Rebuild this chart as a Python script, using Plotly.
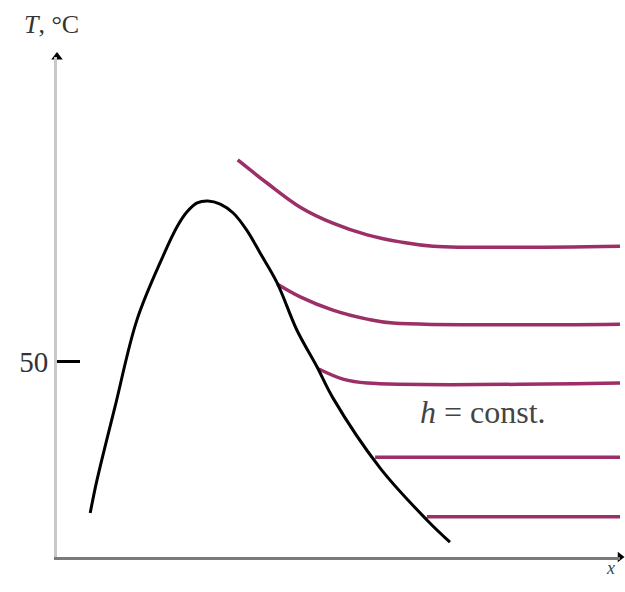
import plotly.graph_objects as go

# saturation curve (x in arbitrary units, T in °C)
curve_x = [0.59, 0.71, 1.03, 1.42, 1.87, 2.13, 2.31, 2.49, 2.68, 2.90, 3.13, 3.37,
           3.61, 3.91, 4.26, 4.62, 4.90, 5.74, 6.57, 6.98]
curve_t = [11.3, 19.7, 38.5, 60.8, 76.7, 84.6, 88.5, 90.8, 91.3, 90.5, 88.2, 83.8,
           77.9, 70.3, 58.2, 48.7, 40.8, 22.8, 9.5, 3.8]

# lines of constant enthalpy
h_x = [
    [3.21, 3.73, 4.32, 4.90, 5.51, 6.09, 6.68, 10.0],
    [3.91, 4.32, 4.90, 5.51, 5.97, 10.0],
    [4.65, 5.08, 5.51, 10.0],
    [5.65, 10.0],
    [6.57, 10.0],
]
h_t = [
    [101.8, 95.9, 89.7, 85.6, 82.6, 80.8, 79.7, 79.7],
    [70.0, 66.7, 63.3, 61.0, 60.0, 59.7],
    [48.2, 45.6, 44.6, 44.6],
    [25.6, 25.6],
    [10.3, 10.3],
]

x_max = 10.0
t_max = 128.2
y_ticks = [50]

fig = go.Figure()

for xs, ts in zip(h_x, h_t):
    fig.add_trace(go.Scatter(x=xs, y=ts, mode="lines", line_shape="spline",
                             line=dict(color="#9c2f68", width=3.5),
                             hoverinfo="skip", cliponaxis=False))

fig.add_trace(go.Scatter(x=curve_x, y=curve_t, mode="lines", line_shape="spline",
                         line=dict(color="black", width=3), hoverinfo="skip"))

# axis arrows
fig.add_trace(go.Scatter(x=[0], y=[t_max], mode="markers", cliponaxis=False,
                         marker=dict(symbol="triangle-up", size=10, color="black"),
                         hoverinfo="skip"))
fig.add_trace(go.Scatter(x=[x_max], y=[0], mode="markers", cliponaxis=False,
                         marker=dict(symbol="triangle-right", size=9, color="black"),
                         hoverinfo="skip"))

fig.add_annotation(x=-0.062, y=1.064, xref="paper", yref="paper", text="<i>T</i>, °C",
                   showarrow=False, xanchor="left", yanchor="middle",
                   font=dict(family="Liberation Serif", size=26, color="#333"))
fig.add_annotation(x=0.995, y=-0.046, xref="paper", yref="paper", text="<i>x</i>",
                   showarrow=False, font=dict(family="Liberation Serif", size=18, color="#444"))
fig.add_annotation(x=6.41, y=37.2, xref="x", yref="y", text="<i>h</i> = const.",
                   showarrow=False, xanchor="left", yanchor="middle",
                   font=dict(family="Liberation Serif", size=32, color="#444"))

fig.update_layout(
    width=625, height=592,
    margin=dict(l=57, r=5, t=57, b=35),
    paper_bgcolor="white", plot_bgcolor="white",
    showlegend=False,
    xaxis=dict(range=[0, x_max], showgrid=False, zeroline=False, showticklabels=False,
               ticks="", showline=True, linecolor="#7a7a7a", linewidth=3,
               automargin=False),
    yaxis=dict(range=[0, t_max], showgrid=False, zeroline=False,
               tickvals=y_ticks, ticktext=[str(v) for v in y_ticks],
               ticks="inside", ticklen=23, tickwidth=3, tickcolor="black",
               tickfont=dict(family="Liberation Serif", size=29, color="#333"),
               showline=True, linecolor="#c8c8c8", linewidth=3, automargin=False),
)

# drop the page's default body margin so the figure sits at the window origin
fig.write_html("out.html", config={"displayModeBar": False},
               post_script="document.body.style.margin = '0';")
